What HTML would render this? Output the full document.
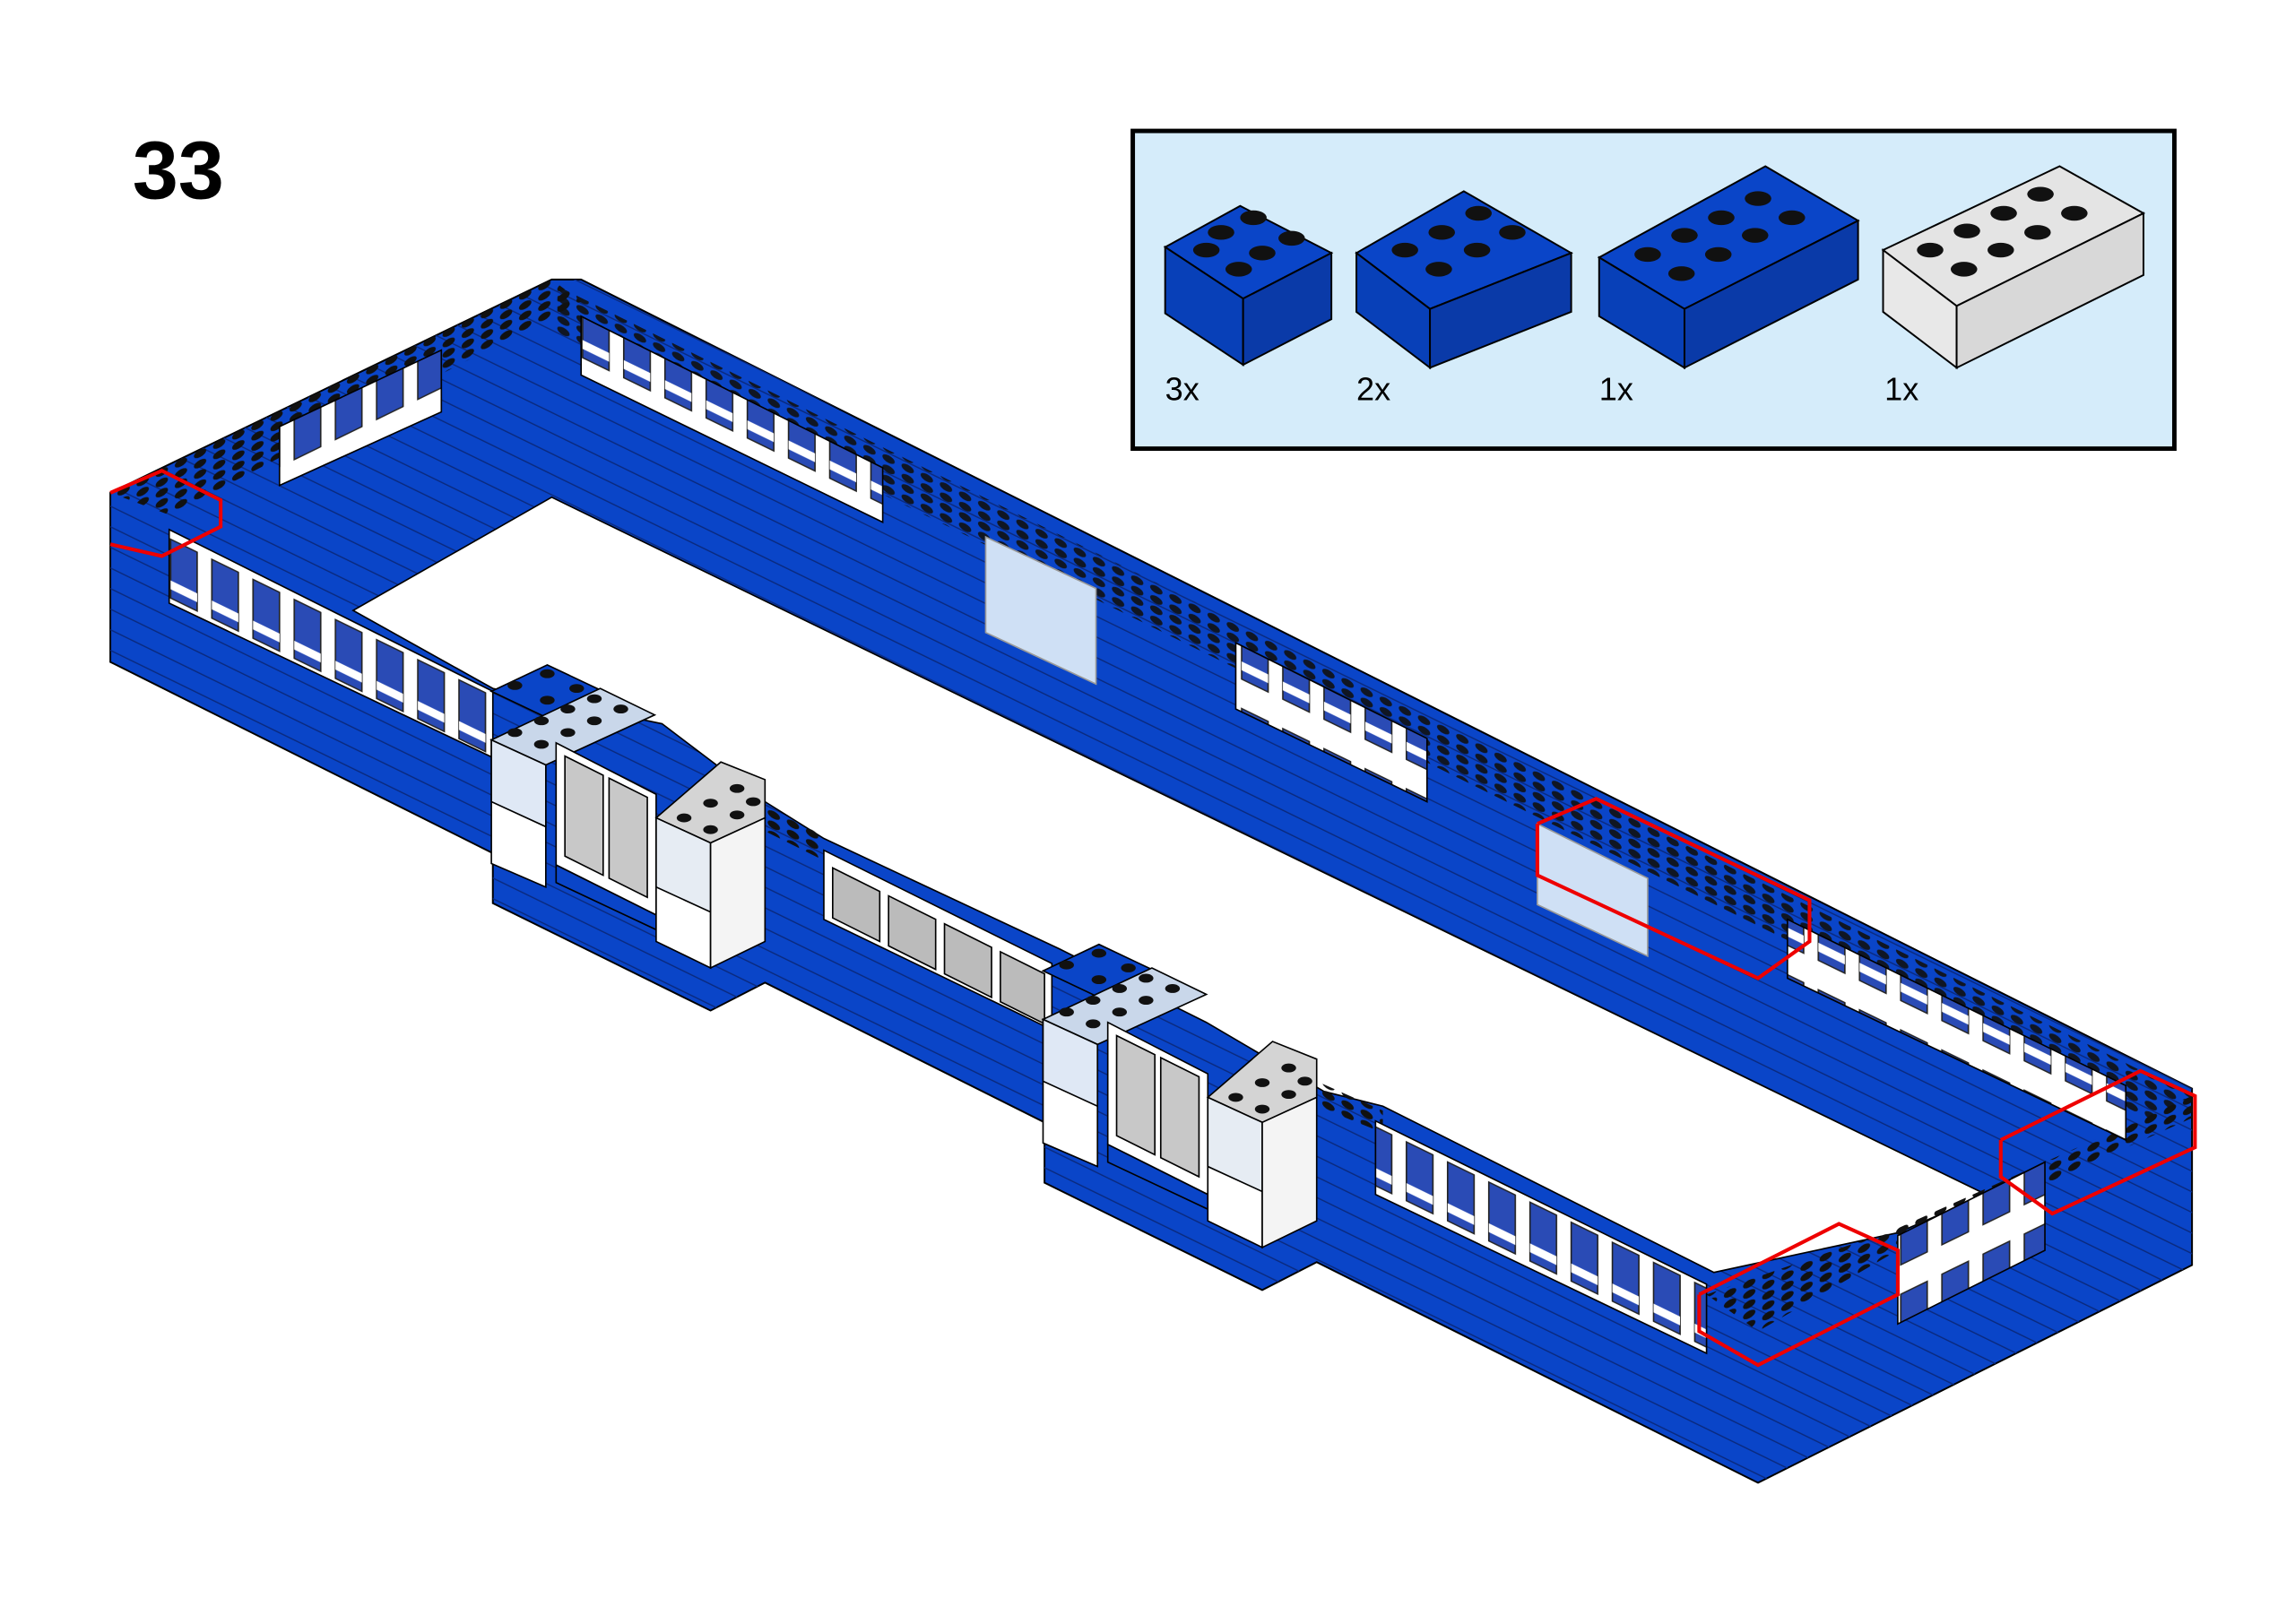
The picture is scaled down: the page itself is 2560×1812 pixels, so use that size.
<!DOCTYPE html>
<html><head><meta charset="utf-8"><style>
html,body{margin:0;padding:0;background:#fff;}
svg{display:block;}
</style></head><body>
<svg width="2560" height="1812" viewBox="0 0 1560 1104" preserveAspectRatio="none" xmlns="http://www.w3.org/2000/svg">
<defs>
<pattern id="studs" width="13" height="7" patternUnits="userSpaceOnUse" patternTransform="skewY(26)">
<ellipse cx="6" cy="3.5" rx="4.2" ry="2.6" fill="#111"/>
</pattern>
<pattern id="studs2" width="13" height="7" patternUnits="userSpaceOnUse" patternTransform="skewY(-26)">
<ellipse cx="6" cy="3.5" rx="4.2" ry="2.6" fill="#111"/>
</pattern>
<pattern id="win" width="28" height="60" patternUnits="userSpaceOnUse" patternTransform="skewY(26)">
<rect width="28" height="60" fill="#fff"/>
<rect x="4" y="10" width="18" height="40" fill="#2a4bb5" stroke="#222" stroke-width="1"/>
<rect x="4" y="38" width="18" height="6" fill="#fff"/>
</pattern>
<pattern id="win2" width="28" height="60" patternUnits="userSpaceOnUse" patternTransform="skewY(-26)">
<rect width="28" height="60" fill="#fff"/>
<rect x="4" y="10" width="18" height="40" fill="#2a4bb5" stroke="#222" stroke-width="1"/>
</pattern>
<pattern id="lines" width="20" height="14" patternUnits="userSpaceOnUse" patternTransform="skewY(26)">
<line x1="0" y1="13.5" x2="20" y2="13.5" stroke="#0a2a80" stroke-width="1"/>
</pattern>
</defs>

<text x="90" y="135" font-family="Liberation Sans, sans-serif" font-weight="bold" font-size="56">33</text>

<rect x="770" y="89" width="708" height="216" fill="#d5ecfa" stroke="#000" stroke-width="3"/>
<g stroke="#000" stroke-width="1.2">
<polygon points="792,168 843,140 905,172 845,203" fill="#0a45c8"/>
<polygon points="792,168 845,203 845,248 792,213" fill="#0840b8"/>
<polygon points="845,203 905,172 905,217 845,248" fill="#0a3aa8"/>
<polygon points="922,172 995,130 1068,172 972,210" fill="#0a45c8"/>
<polygon points="922,172 972,210 972,250 922,212" fill="#0840b8"/>
<polygon points="972,210 1068,172 1068,212 972,250" fill="#0a3aa8"/>
<polygon points="1087,175 1200,113 1263,150 1145,210" fill="#0a45c8"/>
<polygon points="1087,175 1145,210 1145,250 1087,215" fill="#0840b8"/>
<polygon points="1145,210 1263,150 1263,190 1145,250" fill="#0a3aa8"/>
<polygon points="1280,170 1400,113 1457,145 1330,208" fill="#e4e4e4"/>
<polygon points="1280,170 1330,208 1330,250 1280,212" fill="#e8e8e8"/>
<polygon points="1330,208 1457,145 1457,187 1330,250" fill="#d8d8d8"/>
</g>
<g fill="#111">
<ellipse cx="830" cy="158" rx="9" ry="5"/><ellipse cx="852" cy="148" rx="9" ry="5"/><ellipse cx="858" cy="172" rx="9" ry="5"/><ellipse cx="878" cy="162" rx="9" ry="5"/><ellipse cx="820" cy="170" rx="9" ry="5"/><ellipse cx="842" cy="183" rx="9" ry="5"/>
<ellipse cx="955" cy="170" rx="9" ry="5"/><ellipse cx="980" cy="158" rx="9" ry="5"/><ellipse cx="1005" cy="145" rx="9" ry="5"/><ellipse cx="978" cy="183" rx="9" ry="5"/><ellipse cx="1004" cy="170" rx="9" ry="5"/><ellipse cx="1028" cy="158" rx="9" ry="5"/>
<ellipse cx="1120" cy="173" rx="9" ry="5"/><ellipse cx="1145" cy="160" rx="9" ry="5"/><ellipse cx="1170" cy="148" rx="9" ry="5"/><ellipse cx="1195" cy="135" rx="9" ry="5"/><ellipse cx="1143" cy="186" rx="9" ry="5"/><ellipse cx="1168" cy="173" rx="9" ry="5"/><ellipse cx="1193" cy="160" rx="9" ry="5"/><ellipse cx="1218" cy="148" rx="9" ry="5"/>
<ellipse cx="1312" cy="170" rx="9" ry="5"/><ellipse cx="1337" cy="157" rx="9" ry="5"/><ellipse cx="1362" cy="145" rx="9" ry="5"/><ellipse cx="1387" cy="132" rx="9" ry="5"/><ellipse cx="1335" cy="183" rx="9" ry="5"/><ellipse cx="1360" cy="170" rx="9" ry="5"/><ellipse cx="1385" cy="158" rx="9" ry="5"/><ellipse cx="1410" cy="145" rx="9" ry="5"/>
</g>
<g font-family="Liberation Sans, sans-serif" font-size="22" fill="#000">
<text x="792" y="272">3x</text><text x="922" y="272">2x</text><text x="1087" y="272">1x</text><text x="1281" y="272">1x</text>
</g>

<polygon points="75,335 375,190 395,190 1490,740 1490,860 1195,1008 895,858 858,877 710,804 710,763 520,668 483,687 335,614 335,580 75,450" fill="#0a45c8" stroke="#000" stroke-width="1.2"/>
<polygon points="75,335 375,190 395,190 1490,740 1490,860 1195,1008 895,858 858,877 710,804 710,763 520,668 483,687 335,614 335,580 75,450" fill="url(#lines)"/>
<polygon points="375,338 1350,812 1290,838 1165,865 940,752 900,742 820,695 720,645 560,570 520,545 450,492 335,468 240,415" fill="#fff" stroke="#000" stroke-width="1"/>
<polygon points="75,335 375,190 395,205 115,350" fill="url(#studs2)"/>
<polygon points="380,195 1490,745 1460,760 375,225" fill="url(#studs)" opacity="0.9"/>
<polygon points="1160,880 1290,835 1490,745 1490,760 1290,850 1195,905" fill="url(#studs2)"/>
<polygon points="520,548 560,568 560,585 520,565" fill="url(#studs)"/>
<polygon points="895,735 940,755 940,770 895,752" fill="url(#studs)"/>

<polygon points="115,360 335,470 335,515 115,410" fill="url(#win)" stroke="#000" stroke-width="1"/>
<polygon points="560,578 715,655 715,700 560,625" fill="#fff" stroke="#000"/>
<g fill="#bbb" stroke="#000" stroke-width="1"><polygon points="566,590 598,606 598,640 566,624"/><polygon points="604,609 636,625 636,659 604,643"/><polygon points="642,628 674,644 674,678 642,662"/><polygon points="680,647 710,662 710,696 680,681"/></g>
<polygon points="935,762 1160,873 1160,920 935,812" fill="url(#win)" stroke="#000"/>
<polygon points="395,215 600,318 600,355 395,255" fill="url(#win)" stroke="#000"/>
<polygon points="840,437 970,502 970,545 840,482" fill="url(#win)" stroke="#000"/>
<polygon points="1215,625 1445,738 1445,775 1215,665" fill="url(#win)" stroke="#000"/>
<polygon points="190,290 300,238 300,280 190,330" fill="url(#win2)" stroke="#000"/>
<polygon points="1290,840 1390,790 1390,850 1290,900" fill="url(#win2)" stroke="#000"/>

<polygon points="670,365 745,400 745,465 670,430" fill="#cfe0f5" stroke="#999"/>
<polygon points="1045,560 1120,597 1120,650 1045,615" fill="#cfe0f5" stroke="#999"/>

<g id="blk" stroke="#000" stroke-width="1">
<polygon points="334,470 372,452 410,470 372,488" fill="#0a45c8"/>
<polygon points="334,503 371,520 445,486 408,468" fill="#c9d7ea"/>
<polygon points="334,503 371,520 371,603 334,587" fill="#fff"/>
<polygon points="334,503 371,520 371,562 334,545" fill="#dfe8f5"/>
<polygon points="378,505 446,540 446,622 378,588" fill="#fff"/>
<polygon points="384,514 410,527 410,595 384,582" fill="#c8c8c8"/>
<polygon points="414,529 440,542 440,610 414,597" fill="#c8c8c8"/>
<polygon points="378,588 446,622 446,632 378,600" fill="#0a45c8"/>
<polygon points="446,556 483,573 520,556 520,530 490,518" fill="#d4d4d4"/>
<polygon points="446,556 483,573 483,658 446,640" fill="#fff"/>
<polygon points="446,556 483,573 483,620 446,603" fill="#e6ecf3"/>
<polygon points="483,573 520,556 520,640 483,658" fill="#f4f4f4"/>
<g fill="#111" stroke="none">
<ellipse cx="350" cy="498" rx="5" ry="3"/><ellipse cx="368" cy="506" rx="5" ry="3"/><ellipse cx="368" cy="490" rx="5" ry="3"/><ellipse cx="386" cy="498" rx="5" ry="3"/><ellipse cx="386" cy="482" rx="5" ry="3"/><ellipse cx="404" cy="490" rx="5" ry="3"/><ellipse cx="404" cy="475" rx="5" ry="3"/><ellipse cx="422" cy="482" rx="5" ry="3"/>
<ellipse cx="465" cy="556" rx="5" ry="3"/><ellipse cx="483" cy="564" rx="5" ry="3"/><ellipse cx="483" cy="546" rx="5" ry="3"/><ellipse cx="501" cy="554" rx="5" ry="3"/><ellipse cx="501" cy="536" rx="5" ry="3"/><ellipse cx="512" cy="545" rx="5" ry="3"/>
<ellipse cx="350" cy="466" rx="5" ry="3"/><ellipse cx="372" cy="458" rx="5" ry="3"/><ellipse cx="372" cy="476" rx="5" ry="3"/><ellipse cx="392" cy="468" rx="5" ry="3"/>
</g>
</g>
<use href="#blk" transform="translate(375,190)"/>

<g fill="none" stroke="#e00" stroke-width="2.5">
<polyline points="75,335 110,320 150,340 150,358 110,378 75,370"/>
<polyline points="1045,560 1085,543 1230,612 1230,640 1195,665 1120,630 1045,595 1045,560"/>
<polyline points="1155,880 1250,832 1290,850 1290,880 1195,928 1155,905 1155,880"/>
<polyline points="1360,775 1455,728 1492,745 1492,780 1395,825 1360,800 1360,775"/>
</g>
</svg>
</body></html>
